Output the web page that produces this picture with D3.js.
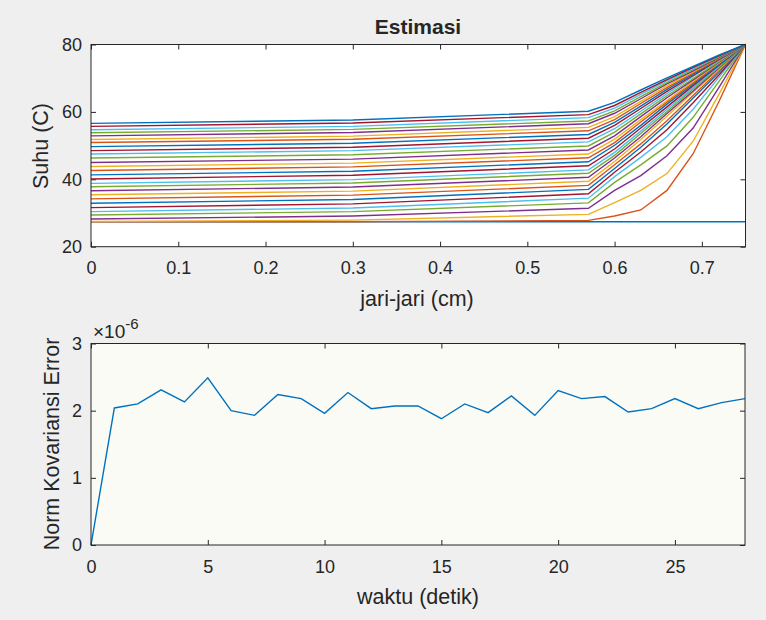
<!DOCTYPE html>
<html>
<head>
<meta charset="utf-8">
<script src="https://cdn.jsdelivr.net/npm/d3@7"></script>
<style>
    body { margin: 0; background: #efefef; }
    svg { display: block; }
    text { font-family: "Liberation Sans", Arial, sans-serif; fill: #262626; }
</style>
</head>
<body>
<svg id="chart" width="766" height="620"></svg>
<script>
// radius nodes (cm) where the temperature profiles were read
const jariJari = [0, 0.3, 0.57, 0.6, 0.63, 0.66, 0.69, 0.72, 0.75];

// one temperature profile per time step (C)
const suhu = [
    [27.4, 27.4, 27.4, 27.4, 27.4, 27.4, 27.4, 27.4, 27.4],
    [27.4, 27.4, 27.8, 29.1, 30.9, 36.7, 47.6, 63.3, 80],
    [27.5, 27.9, 29.6, 33.1, 36.7, 41.7, 51.3, 65.4, 80],
    [28.2, 29.1, 31.4, 36.7, 41.1, 47.0, 55.2, 67.4, 80],
    [29.4, 30.4, 33.0, 39.1, 44.3, 49.9, 58.4, 69.2, 80],
    [30.4, 31.5, 34.4, 40.8, 46.5, 52.6, 60.8, 70.4, 80],
    [31.6, 32.7, 35.7, 42.1, 48.1, 54.7, 62.7, 71.1, 80],
    [32.9, 34.0, 37.0, 43.2, 49.5, 56.4, 64.1, 71.8, 80],
    [34.2, 35.3, 38.2, 44.3, 50.5, 57.4, 64.9, 72.3, 80],
    [35.4, 36.5, 39.4, 45.3, 51.8, 58.7, 65.8, 72.7, 80],
    [36.6, 37.7, 40.6, 46.3, 52.6, 59.5, 66.2, 73.1, 80],
    [37.8, 38.9, 41.8, 47.1, 53.6, 60.1, 66.8, 73.3, 80],
    [38.8, 39.9, 42.8, 48.0, 54.3, 60.8, 67.2, 73.7, 80],
    [40.1, 41.2, 44.0, 49.0, 55.2, 61.5, 67.8, 73.9, 80],
    [41.3, 42.4, 45.2, 50.1, 56.0, 62.3, 68.2, 74.1, 80],
    [42.6, 43.7, 46.4, 50.9, 57.0, 62.9, 68.6, 74.5, 80],
    [43.8, 44.8, 47.5, 51.9, 57.7, 63.4, 69.1, 74.6, 80],
    [45.0, 46.0, 48.7, 52.9, 58.6, 64.2, 69.5, 74.8, 80],
    [46.3, 47.3, 49.9, 54.0, 59.4, 64.8, 69.9, 75.0, 80],
    [47.5, 48.5, 51.1, 55.0, 60.2, 65.4, 70.5, 75.4, 80],
    [48.5, 49.5, 52.2, 56.0, 61.0, 66.1, 70.8, 75.6, 80],
    [49.7, 50.7, 53.3, 56.9, 61.7, 66.7, 71.2, 75.7, 80],
    [50.9, 51.9, 54.4, 57.7, 62.5, 67.2, 71.6, 75.9, 80],
    [51.8, 52.8, 55.4, 58.6, 63.1, 67.7, 71.9, 76.1, 80],
    [52.9, 53.9, 56.5, 59.6, 63.9, 68.3, 72.2, 76.2, 80],
    [53.8, 54.8, 57.3, 60.3, 64.5, 68.7, 72.6, 76.4, 80],
    [54.7, 55.7, 58.3, 61.1, 65.2, 69.2, 72.9, 76.6, 80],
    [55.7, 56.7, 59.2, 61.9, 65.8, 69.6, 73.2, 76.7, 80],
    [56.6, 57.6, 60.2, 62.8, 66.5, 70.1, 73.5, 76.9, 80]
];

// time (s) and norm of the covariance error
const waktu = [0, 1, 2, 3, 4, 5, 6, 7, 8, 9, 10, 11, 12, 13, 14, 15, 16, 17, 18, 19, 20, 21, 22, 23, 24, 25, 26, 27, 28];
const normErr = [0, 2.04e-6, 2.10e-6, 2.31e-6, 2.13e-6, 2.49e-6, 2.00e-6, 1.93e-6, 2.24e-6, 2.18e-6,
    1.96e-6, 2.27e-6, 2.03e-6, 2.07e-6, 2.07e-6, 1.88e-6, 2.10e-6, 1.97e-6, 2.22e-6, 1.93e-6,
    2.30e-6, 2.18e-6, 2.21e-6, 1.98e-6, 2.03e-6, 2.18e-6, 2.03e-6, 2.12e-6, 2.18e-6];

const ticksJari = [0, 0.1, 0.2, 0.3, 0.4, 0.5, 0.6, 0.7];
const ticksSuhu = [20, 40, 60, 80];
const ticksWaktu = [0, 5, 10, 15, 20, 25];
const ticksErr = [0, 1e-6, 2e-6, 3e-6];

// matlab default color order
const warna = ["#0072BD", "#D95319", "#EDB120", "#7E2F8E", "#77AC30", "#4DBEEE", "#A2142F"];

const svg = d3.select("#chart");
svg.append("rect").attr("width", 766).attr("height", 620).attr("fill", "#efefef");

const AXIS = "#262626";

function drawFrame(x, y, xTicks, yTicks, xFmt, yFmt, bg) {
    const [x0, x1] = x.range();
    const [y0, y1] = y.range();

    svg.append("rect")
        .attr("x", x0).attr("y", y1)
        .attr("width", x1 - x0).attr("height", y0 - y1)
        .attr("fill", bg);

    const axes = [
        [d3.axisBottom(x).tickValues(xTicks).tickFormat(xFmt).tickPadding(15), `translate(0,${y0})`],
        [d3.axisTop(x).tickValues(xTicks).tickFormat(""), `translate(0,${y1})`],
        [d3.axisLeft(y).tickValues(yTicks).tickFormat(yFmt).tickPadding(9), `translate(${x0},0)`],
        [d3.axisRight(y).tickValues(yTicks).tickFormat(""), `translate(${x1},0)`]
    ];
    axes.forEach(([ax, tr]) => {
        const g = svg.append("g")
            .attr("transform", tr)
            .call(ax.tickSizeInner(-5).tickSizeOuter(0));
        g.select(".domain").remove();
        g.selectAll(".tick line").attr("stroke", AXIS);
        g.selectAll(".tick text")
            .attr("font-size", 18)
            .attr("font-family", "Liberation Sans, Arial, sans-serif")
            .attr("fill", AXIS);
    });
}

function drawBox(x, y) {
    const [x0, x1] = x.range();
    const [y0, y1] = y.range();
    svg.append("rect")
        .attr("x", x0).attr("y", y1)
        .attr("width", x1 - x0).attr("height", y0 - y1)
        .attr("fill", "none")
        .attr("stroke", AXIS)
        .attr("stroke-width", 1);
}

// ---- top: Estimasi
const xTop = d3.scaleLinear().domain([0, 0.75]).range([91, 745.5]);
const yTop = d3.scaleLinear().domain([20, 80]).range([246.7, 44.5]);

drawFrame(xTop, yTop, ticksJari, ticksSuhu, d => d === 0 ? "0" : d3.format(".1f")(d), d3.format("d"), "#ffffff");

const lineTop = d3.line()
    .x((d, i) => xTop(jariJari[i]))
    .y(d => yTop(d));

svg.append("g")
    .selectAll("path")
    .data(suhu)
    .join("path")
    .attr("d", lineTop)
    .attr("fill", "none")
    .attr("stroke", (d, i) => warna[i % warna.length])
    .attr("stroke-width", 1.4);

drawBox(xTop, yTop);

svg.append("text")
    .attr("x", 418).attr("y", 33.5)
    .attr("text-anchor", "middle")
    .attr("font-size", 21)
    .attr("font-weight", "bold")
    .attr("fill", "#111")
    .text("Estimasi");

svg.append("text")
    .attr("x", 417).attr("y", 305.5)
    .attr("text-anchor", "middle")
    .attr("font-size", 21.5)
    .text("jari-jari (cm)");

svg.append("text")
    .attr("transform", "translate(48,146) rotate(-90)")
    .attr("text-anchor", "middle")
    .attr("font-size", 21.5)
    .text("Suhu (C)");

// ---- bottom: norm covariance error
const xBot = d3.scaleLinear().domain([0, 28]).range([91, 745]);
const yBot = d3.scaleLinear().domain([0, 3e-6]).range([545, 343.5]);

drawFrame(xBot, yBot, ticksWaktu, ticksErr, d3.format("d"), d => d3.format("d")(Math.round(d / 1e-6)), "#fbfbf6");

svg.append("path")
    .datum(normErr)
    .attr("d", d3.line().x((d, i) => xBot(waktu[i])).y(d => yBot(d)))
    .attr("fill", "none")
    .attr("stroke", warna[0])
    .attr("stroke-width", 1.4);

drawBox(xBot, yBot);

const expo = svg.append("text")
    .attr("x", 93).attr("y", 338)
    .attr("font-size", 19);
expo.append("tspan").text("\u00d710");
expo.append("tspan").attr("font-size", 15).attr("dy", -9).text("-6");

svg.append("text")
    .attr("x", 418).attr("y", 604)
    .attr("text-anchor", "middle")
    .attr("font-size", 21.5)
    .text("waktu (detik)");

svg.append("text")
    .attr("transform", "translate(59,444) rotate(-90)")
    .attr("text-anchor", "middle")
    .attr("font-size", 21.5)
    .text("Norm Kovariansi Error");
</script>
</body>
</html>
